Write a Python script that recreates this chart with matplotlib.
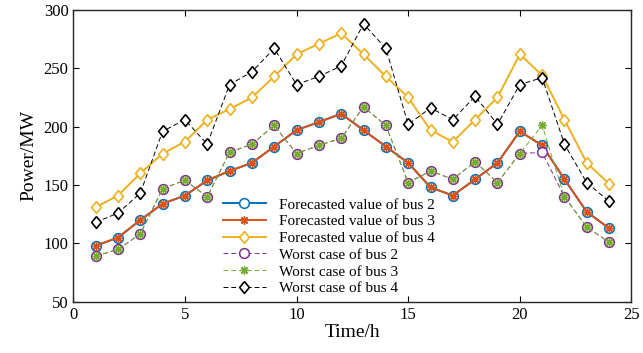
import numpy as np
import matplotlib
matplotlib.use("Agg")
import matplotlib.pyplot as plt

plt.rcParams['font.family'] = ['Liberation Serif', 'DejaVu Serif']

hours = list(range(1, 25))
forecast_bus2 = [98, 105, 120, 134, 141, 154, 162, 169, 183, 197, 204, 211,
                 197, 183, 169, 148, 141, 155, 169, 196, 184, 155, 127, 113]
forecast_bus3 = forecast_bus2
forecast_bus4 = [131, 141, 160, 177, 187, 206, 215, 225, 243, 262, 271, 280,
                 262, 243, 225, 197, 187, 206, 225, 262, 244, 206, 169, 151]
worst_bus2 = [89, 95, 108, 147, 154, 140, 178, 185, 201, 177, 184, 190,
              217, 201, 152, 162, 155, 170, 152, 177, 178, 140, 114, 101]
worst_bus3 = [89, 95, 108, 147, 154, 140, 178, 185, 201, 177, 184, 190,
              217, 201, 152, 162, 155, 170, 152, 177, 201, 140, 114, 101]
worst_bus4 = [118, 126, 143, 196, 206, 185, 236, 247, 267, 236, 243, 252,
              288, 267, 202, 216, 206, 226, 202, 236, 242, 185, 152, 136]

blue = '#0072BD'
orange = '#D95319'
yellow = '#EDB120'
purple = '#7E2F8E'
green = '#77AC30'

# MATLAB-like diamond, a bit taller than wide, and an asterisk
diamond = [(0, 1), (0.82, 0), (0, -1), (-0.82, 0), (0, 1)]
asterisk = (8, 2, 0)

fig, ax = plt.subplots(figsize=(6.43, 3.53), dpi=100)
fig.subplots_adjust(left=0.114, right=0.982, top=0.972, bottom=0.145)

ax.plot(hours, forecast_bus2, '-', marker='o', color=blue, lw=1.4, ms=7,
        mfc='white', mew=1.1, label='Forecasted value of bus 2')
ax.plot(hours, forecast_bus3, '-', marker=asterisk, color=orange, lw=1.4, ms=6,
        mew=1.0, label='Forecasted value of bus 3')
ax.plot(hours, forecast_bus4, '-', marker=diamond, color=yellow, lw=1.4, ms=8.5,
        mfc='white', mew=1.2, label='Forecasted value of bus 4')
ax.plot(hours, worst_bus2, '--', marker='o', color=purple, lw=0.7, ms=7,
        mfc='white', mew=1.1, dashes=(5, 3), label='Worst case of bus 2')
ax.plot(hours, worst_bus3, '--', marker=asterisk, color=green, lw=0.7, ms=6,
        mew=1.0, dashes=(5, 3), label='Worst case of bus 3')
ax.plot(hours, worst_bus4, '--', marker=diamond, color='black', lw=0.7, ms=8.5,
        mfc='white', mew=1.2, dashes=(5, 3), label='Worst case of bus 4')

ax.set_xlim(0, 25)
ax.set_ylim(50, 300)
ax.set_xticks([0, 5, 10, 15, 20, 25])
ax.set_yticks([50, 100, 150, 200, 250, 300])
ax.tick_params(direction='in', top=True, right=True, labelsize=12, length=4)
for s in ax.spines.values():
    s.set_linewidth(1.0)
    s.set_color('#262626')

ax.set_xlabel('Time/h', fontsize=14, labelpad=1)
ax.set_ylabel('Power/MW', fontsize=14, labelpad=4)

ax.legend(loc='upper left', bbox_to_anchor=(0.268, 0.356), frameon=False,
          fontsize=11, handlelength=2.8, labelspacing=0.2,
          borderaxespad=0, borderpad=0, handletextpad=0.85)

fig.savefig('out.png', dpi=100)
